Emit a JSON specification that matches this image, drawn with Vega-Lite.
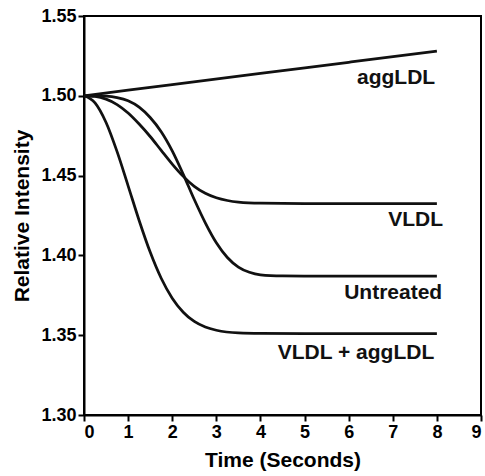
{
  "$schema": "https://vega.github.io/schema/vega-lite/v6.json",
  "width": 397,
  "height": 399,
  "autosize": {"type": "none"},
  "padding": {"left": 84, "top": 16, "right": 4, "bottom": 61},
  "background": "white",
  "config": {
    "view": {"stroke": "black", "strokeWidth": 2},
    "font": "Liberation Sans",
    "axis": {
      "domainColor": "black",
      "domainWidth": 2,
      "tickColor": "black",
      "tickWidth": 2,
      "tickSize": 6,
      "grid": false,
      "labelFont": "Liberation Sans",
      "labelFontWeight": "bold",
      "labelColor": "black",
      "titleFont": "Liberation Sans",
      "titleFontWeight": "bold",
      "titleColor": "black"
    }
  },
  "datasets": {
    "curves": [
      {"t": 0, "v": 1.5, "s": "aggLDL"},
      {"t": 2, "v": 1.507, "s": "aggLDL"},
      {"t": 4, "v": 1.514, "s": "aggLDL"},
      {"t": 6, "v": 1.521, "s": "aggLDL"},
      {"t": 8, "v": 1.528, "s": "aggLDL"},

      {"t": 0, "v": 1.5, "s": "VLDL"},
      {"t": 0.25, "v": 1.4996, "s": "VLDL"},
      {"t": 0.5, "v": 1.4979, "s": "VLDL"},
      {"t": 0.75, "v": 1.4945, "s": "VLDL"},
      {"t": 1.0, "v": 1.4892, "s": "VLDL"},
      {"t": 1.25, "v": 1.4823, "s": "VLDL"},
      {"t": 1.5, "v": 1.4745, "s": "VLDL"},
      {"t": 1.75, "v": 1.4658, "s": "VLDL"},
      {"t": 2.0, "v": 1.4572, "s": "VLDL"},
      {"t": 2.25, "v": 1.4495, "s": "VLDL"},
      {"t": 2.5, "v": 1.4433, "s": "VLDL"},
      {"t": 2.75, "v": 1.4389, "s": "VLDL"},
      {"t": 3.0, "v": 1.4361, "s": "VLDL"},
      {"t": 3.25, "v": 1.4344, "s": "VLDL"},
      {"t": 3.5, "v": 1.4334, "s": "VLDL"},
      {"t": 4.0, "v": 1.4327, "s": "VLDL"},
      {"t": 5.0, "v": 1.4325, "s": "VLDL"},
      {"t": 6.0, "v": 1.4325, "s": "VLDL"},
      {"t": 7.0, "v": 1.4325, "s": "VLDL"},
      {"t": 8.0, "v": 1.4325, "s": "VLDL"},

      {"t": 0, "v": 1.5, "s": "Untreated"},
      {"t": 0.25, "v": 1.5, "s": "Untreated"},
      {"t": 0.5, "v": 1.4998, "s": "Untreated"},
      {"t": 0.75, "v": 1.4989, "s": "Untreated"},
      {"t": 1.0, "v": 1.4969, "s": "Untreated"},
      {"t": 1.25, "v": 1.4929, "s": "Untreated"},
      {"t": 1.5, "v": 1.4864, "s": "Untreated"},
      {"t": 1.75, "v": 1.4775, "s": "Untreated"},
      {"t": 2.0, "v": 1.4655, "s": "Untreated"},
      {"t": 2.25, "v": 1.4508, "s": "Untreated"},
      {"t": 2.5, "v": 1.435, "s": "Untreated"},
      {"t": 2.75, "v": 1.4204, "s": "Untreated"},
      {"t": 3.0, "v": 1.4079, "s": "Untreated"},
      {"t": 3.25, "v": 1.3987, "s": "Untreated"},
      {"t": 3.5, "v": 1.3927, "s": "Untreated"},
      {"t": 3.75, "v": 1.3894, "s": "Untreated"},
      {"t": 4.0, "v": 1.3878, "s": "Untreated"},
      {"t": 4.5, "v": 1.3871, "s": "Untreated"},
      {"t": 5.0, "v": 1.387, "s": "Untreated"},
      {"t": 6.0, "v": 1.387, "s": "Untreated"},
      {"t": 7.0, "v": 1.387, "s": "Untreated"},
      {"t": 8.0, "v": 1.387, "s": "Untreated"},

      {"t": 0, "v": 1.5, "s": "VLDL + aggLDL"},
      {"t": 0.25, "v": 1.4956, "s": "VLDL + aggLDL"},
      {"t": 0.5, "v": 1.4833, "s": "VLDL + aggLDL"},
      {"t": 0.75, "v": 1.465, "s": "VLDL + aggLDL"},
      {"t": 1.0, "v": 1.4436, "s": "VLDL + aggLDL"},
      {"t": 1.25, "v": 1.4219, "s": "VLDL + aggLDL"},
      {"t": 1.5, "v": 1.4021, "s": "VLDL + aggLDL"},
      {"t": 1.75, "v": 1.3857, "s": "VLDL + aggLDL"},
      {"t": 2.0, "v": 1.3732, "s": "VLDL + aggLDL"},
      {"t": 2.25, "v": 1.3644, "s": "VLDL + aggLDL"},
      {"t": 2.5, "v": 1.3586, "s": "VLDL + aggLDL"},
      {"t": 2.75, "v": 1.3551, "s": "VLDL + aggLDL"},
      {"t": 3.0, "v": 1.3531, "s": "VLDL + aggLDL"},
      {"t": 3.5, "v": 1.3514, "s": "VLDL + aggLDL"},
      {"t": 4.0, "v": 1.3511, "s": "VLDL + aggLDL"},
      {"t": 5.0, "v": 1.351, "s": "VLDL + aggLDL"},
      {"t": 6.0, "v": 1.351, "s": "VLDL + aggLDL"},
      {"t": 7.0, "v": 1.351, "s": "VLDL + aggLDL"},
      {"t": 8.0, "v": 1.351, "s": "VLDL + aggLDL"}
    ],
    "labels": [
      {"t": 7.96, "v": 1.511, "label": "aggLDL"},
      {"t": 8.14, "v": 1.4222, "label": "VLDL"},
      {"t": 8.12, "v": 1.3764, "label": "Untreated"},
      {"t": 7.94, "v": 1.3389, "label": "VLDL + aggLDL"}
    ]
  },
  "layer": [
    {
      "data": {"name": "curves"},
      "mark": {"type": "line", "interpolate": "monotone", "color": "#111", "strokeWidth": 2.75},
      "encoding": {
        "x": {
          "field": "t", "type": "quantitative",
          "scale": {"domain": [0, 9], "nice": false},
          "axis": {"title": "Time (Seconds)", "values": [0,1,2,3,4,5,6,7,8,9], "labelFontSize": 18, "titleFontSize": 21, "labelPadding": 2, "titlePadding": 8}
        },
        "y": {
          "field": "v", "type": "quantitative",
          "scale": {"domain": [1.3, 1.55], "nice": false, "zero": false},
          "axis": {"title": "Relative Intensity", "values": [1.3,1.35,1.4,1.45,1.5,1.55], "format": ".2f", "labelFontSize": 18, "titleFontSize": 21, "labelPadding": 2, "titlePadding": 8}
        },
        "detail": {"field": "s"}
      }
    },
    {
      "data": {"name": "labels"},
      "mark": {"type": "text", "align": "right", "baseline": "middle", "font": "Liberation Sans", "fontWeight": "bold", "fontSize": 21, "color": "#111"},
      "encoding": {
        "x": {"field": "t", "type": "quantitative"},
        "y": {"field": "v", "type": "quantitative"},
        "text": {"field": "label"}
      }
    }
  ]
}
